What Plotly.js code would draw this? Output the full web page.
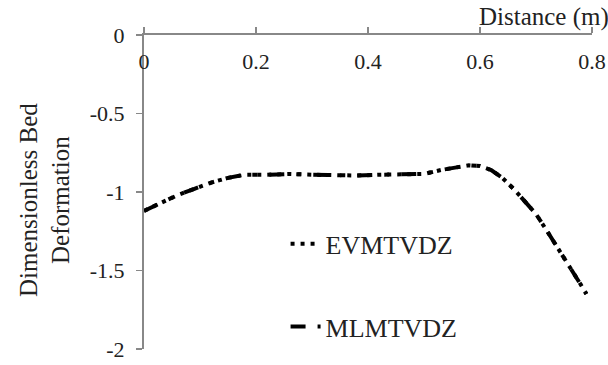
<!DOCTYPE html>
<html>
<head>
<meta charset="utf-8">
<script src="https://cdn.plot.ly/plotly-3.0.1.min.js"></script>
<style>html,body{margin:0;padding:0;background:#fff;}#chart{width:608px;height:365px;}</style>
</head>
<body>
<div id="chart"></div>
<script>
const distance = [0, 0.03, 0.06, 0.09, 0.12, 0.15, 0.18, 0.22, 0.26, 0.30, 0.34, 0.38, 0.42, 0.46, 0.50, 0.53, 0.56, 0.58, 0.60, 0.62, 0.64, 0.66, 0.68, 0.70, 0.72, 0.74, 0.76, 0.78, 0.79];
const evmtvdz = [-1.12, -1.07, -1.02, -0.98, -0.94, -0.91, -0.89, -0.89, -0.885, -0.89, -0.895, -0.895, -0.89, -0.89, -0.885, -0.86, -0.84, -0.83, -0.835, -0.86, -0.91, -0.98, -1.06, -1.14, -1.25, -1.36, -1.48, -1.59, -1.65];
const mlmtvdz = [-1.12, -1.07, -1.02, -0.98, -0.94, -0.91, -0.89, -0.89, -0.885, -0.89, -0.895, -0.895, -0.89, -0.89, -0.885, -0.86, -0.84, -0.83, -0.835, -0.86, -0.91, -0.98, -1.06, -1.14, -1.25, -1.36, -1.48, -1.59, -1.65];
const xTicks = [0, 0.2, 0.4, 0.6, 0.8];
const xTickLabels = ['0', '0.2', '0.4', '0.6', '0.8'];
const yTicks = [0, -0.5, -1, -1.5, -2];
const yTickLabels = ['0', '-0.5', '-1', '-1.5', '-2'];

const FONT = 'Liberation Serif, Times New Roman, serif';

const traces = [
  {x: distance, y: evmtvdz, name: 'EVMTVDZ', mode: 'lines', legendgroup: 'a',
   line: {color: '#000', width: 4, dash: '4px,6px'}},
  {x: distance, y: mlmtvdz, name: 'MLMTVDZ', mode: 'lines', legendgroup: 'b',
   line: {color: '#000', width: 4, dash: '15px,12px,5px,12px'}}
];

const layout = {
  width: 608, height: 365,
  margin: {l: 144, r: 16, t: 35, b: 16},
  paper_bgcolor: '#fff', plot_bgcolor: '#fff',
  font: {family: FONT, color: '#222', size: 22},
  showlegend: true,
  legend: {x: 0.316, y: 0.41, xanchor: 'left', yanchor: 'top', bgcolor: 'rgba(0,0,0,0)',
           font: {family: FONT, size: 26, color: '#222'}, tracegroupgap: 46},
  xaxis: {
    range: [0, 0.8], side: 'top',
    tickvals: xTicks, ticktext: xTickLabels,
    ticks: 'outside', ticklen: 6, tickcolor: '#888', tickwidth: 1.5,
    ticklabelposition: 'inside', ticklabeloverflow: 'allow', ticklabelstandoff: 20,
    tickfont: {family: FONT, size: 22, color: '#222'},
    showline: true, linecolor: '#888', linewidth: 2,
    showgrid: false, zeroline: false
  },
  yaxis: {
    range: [-2, 0],
    tickvals: yTicks, ticktext: yTickLabels,
    ticks: 'outside', ticklen: 6, tickcolor: '#888', tickwidth: 1.5,
    ticklabelstandoff: 7, ticklabeloverflow: 'allow',
    tickfont: {family: FONT, size: 22, color: '#222'},
    showline: true, linecolor: '#888', linewidth: 2,
    showgrid: false, zeroline: false
  },
  annotations: [
    {text: 'Distance (m)', xref: 'paper', yref: 'paper', x: 0.893, y: 1.058,
     xanchor: 'center', yanchor: 'middle',
     showarrow: false, font: {family: FONT, size: 25, color: '#222'}},
    {text: 'Dimensionless Bed<br>Deformation', xref: 'paper', yref: 'paper', x: -0.221, y: 0.4745,
     xanchor: 'center', yanchor: 'middle',
     textangle: -90, showarrow: false, font: {family: FONT, size: 25, color: '#222'}}
  ]
};

Plotly.newPlot('chart', traces, layout, {displayModeBar: false, staticPlot: true});
</script>
</body>
</html>
